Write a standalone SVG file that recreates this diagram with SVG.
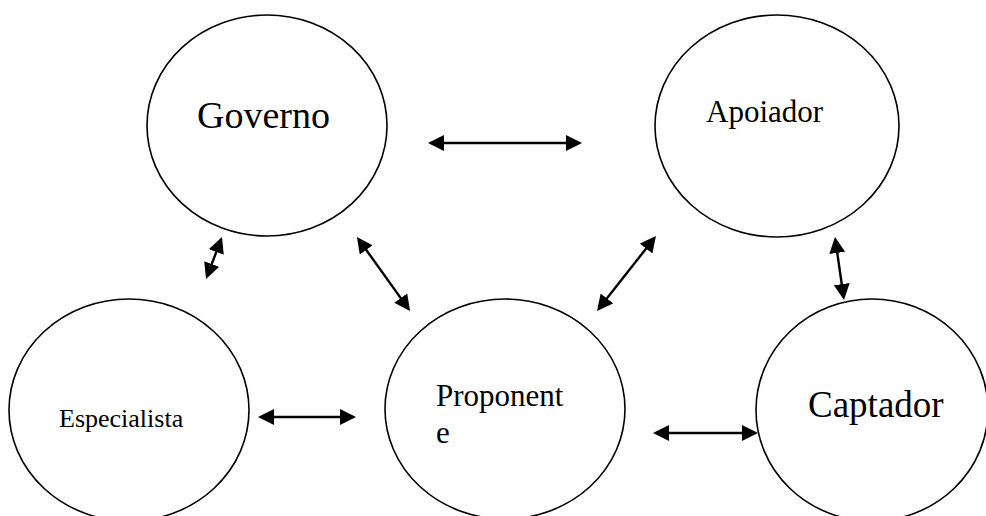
<svg xmlns="http://www.w3.org/2000/svg" width="986" height="516" viewBox="0 0 986 516">
  <style>
    .node { fill: #ffffff; stroke: #000000; stroke-width: 1.6; }
    .label { font-family: "Liberation Serif", "Times New Roman", serif; fill: #000000; }
    .link { stroke: #000000; stroke-width: 2.4; fill: none; marker-start: url(#head); marker-end: url(#head); }
  </style>
  <defs>
    <!-- filled triangular head, shared by both ends of every link -->
    <marker id="head" markerUnits="userSpaceOnUse" markerWidth="16" markerHeight="16" refX="13" refY="8" orient="auto-start-reverse" viewBox="0 0 16 16">
      <path d="M0,0 L16,8 L0,16 z" fill="#000000"/>
    </marker>
  </defs>
  <rect width="986" height="516" fill="#ffffff"/>

  <g id="governo">
    <ellipse class="node" cx="267" cy="125.5" rx="120" ry="110.5"/>
    <text class="label" x="197" y="128" font-size="38">Governo</text>
  </g>
  <g id="apoiador">
    <ellipse class="node" cx="777" cy="126" rx="122" ry="111"/>
    <text class="label" x="706" y="122" font-size="31">Apoiador</text>
  </g>
  <g id="especialista">
    <ellipse class="node" cx="129" cy="410" rx="120" ry="111"/>
    <text class="label" x="59" y="427" font-size="26">Especialista</text>
  </g>
  <g id="proponente">
    <ellipse class="node" cx="505" cy="409" rx="120" ry="110"/>
    <text class="label" x="436" y="406" font-size="31">Proponent</text>
    <text class="label" x="436" y="443" font-size="31">e</text>
  </g>
  <g id="captador">
    <ellipse class="node" cx="872" cy="410" rx="116" ry="111"/>
    <text class="label" x="808" y="417" font-size="37">Captador</text>
  </g>

  <g id="connectors">
    <line class="link" x1="431" y1="143" x2="579" y2="143"/>
    <line class="link" x1="261" y1="417" x2="353" y2="417"/>
    <line class="link" x1="656" y1="433" x2="755" y2="433"/>
    <line class="link" x1="220.9" y1="239.8" x2="207.1" y2="276.2"/>
    <line class="link" x1="358.7" y1="239.4" x2="408.3" y2="308.6"/>
    <line class="link" x1="654.1" y1="238.4" x2="598.9" y2="308.6"/>
    <line class="link" x1="835.4" y1="240" x2="843.6" y2="297"/>
  </g>
</svg>
